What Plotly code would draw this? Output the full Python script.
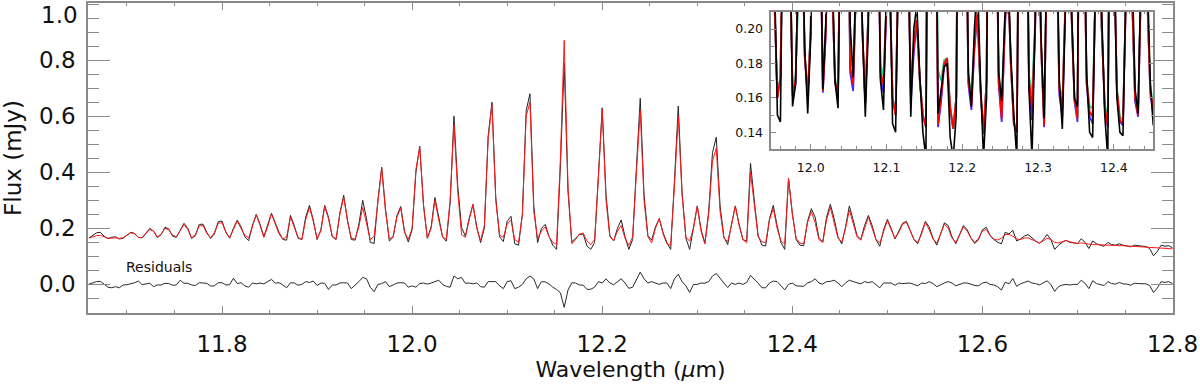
import plotly.graph_objects as go

# spectrum is sampled every 0.004 um starting at 11.66 um
wave_start = 11.66
wave_step = 0.004

# fluxes below are in units of 0.001 mJy
flux_obs = [
    166, 175, 184, 186, 172, 163, 168, 170, 162, 165,
    175, 186, 182, 168, 166, 182, 200, 190, 167, 178,
    204, 198, 172, 168, 195, 218, 200, 164, 174, 214,
    215, 186, 164, 180, 224, 226, 186, 165, 200, 229,
    206, 170, 156, 210, 250, 215, 170, 215, 254, 220,
    186, 160, 158, 246, 210, 165, 160, 240, 282, 230,
    160, 195, 282, 240, 170, 160, 255, 318, 230, 160,
    158, 215, 300, 235, 150, 146, 300, 418, 270, 155,
    168, 245, 278, 190, 151, 195, 400, 493, 285, 165,
    205, 310, 245, 170, 154, 290, 600, 350, 203, 172,
    235, 286, 205, 149, 200, 530, 650, 310, 170, 153,
    225, 243, 145, 140, 250, 620, 680, 280, 149, 200,
    214, 172, 140, 125, 420, 789, 330, 151, 165, 178,
    180, 137, 125, 150, 390, 630, 320, 175, 155, 200,
    230, 170, 125, 160, 420, 664, 320, 175, 158, 205,
    235, 185, 150, 125, 370, 636, 330, 165, 125, 200,
    280, 195, 148, 260, 470, 525, 280, 170, 142, 215,
    280, 215, 160, 155, 432, 300, 175, 140, 137, 235,
    282, 210, 150, 125, 378, 255, 160, 140, 138, 225,
    270, 240, 165, 151, 240, 286, 235, 170, 144, 205,
    280, 230, 175, 160, 210, 246, 210, 160, 136, 195,
    232, 200, 162, 190, 218, 225, 195, 160, 145, 185,
    225, 205, 165, 140, 180, 220, 210, 170, 145, 175,
    210, 195, 165, 146, 160, 195, 204, 175, 160, 150,
    145, 186, 180, 193, 155, 162, 172, 178, 165, 155,
    146, 160, 178, 160, 125, 140, 150, 157, 150, 148,
    146, 163, 150, 128, 155, 145, 140, 136, 150, 142,
    140, 145, 140, 138, 134, 140, 138, 136, 135, 128,
    102, 118, 140, 136, 138, 130,
]

flux_model = [
    165, 170, 174, 175, 170, 165, 165, 166, 164, 167,
    176, 184, 180, 168, 167, 180, 196, 190, 169, 180,
    200, 195, 175, 170, 192, 214, 196, 166, 178, 208,
    210, 182, 166, 185, 218, 220, 188, 166, 196, 226,
    200, 175, 166, 205, 248, 210, 168, 205, 252, 215,
    180, 162, 170, 240, 205, 168, 160, 230, 275, 225,
    164, 190, 278, 235, 172, 162, 250, 312, 225, 165,
    162, 205, 275, 215, 160, 172, 300, 415, 260, 163,
    170, 240, 272, 185, 161, 200, 410, 490, 280, 164,
    200, 300, 230, 170, 161, 300, 570, 330, 178, 168,
    230, 284, 200, 157, 210, 520, 640, 300, 175, 168,
    215, 230, 160, 150, 250, 600, 650, 260, 164, 190,
    205, 170, 150, 143, 450, 871, 350, 145, 160, 180,
    183, 155, 142, 160, 380, 625, 300, 170, 156, 190,
    210, 165, 139, 170, 400, 620, 300, 170, 148, 200,
    235, 180, 145, 140, 350, 600, 320, 170, 154, 200,
    280, 190, 144, 250, 440, 486, 260, 165, 153, 210,
    280, 210, 160, 148, 400, 280, 170, 152, 149, 230,
    270, 200, 155, 144, 378, 250, 165, 147, 145, 220,
    260, 220, 160, 150, 230, 275, 220, 165, 152, 200,
    265, 220, 170, 158, 200, 240, 200, 160, 148, 190,
    228, 195, 165, 185, 215, 222, 190, 160, 150, 180,
    222, 195, 162, 148, 180, 215, 200, 165, 150, 175,
    205, 190, 165, 150, 165, 190, 196, 175, 162, 158,
    165, 178, 178, 172, 162, 160, 165, 166, 160, 152,
    148, 155, 165, 160, 150, 148, 152, 157, 152, 148,
    146, 148, 146, 143, 142, 142, 141, 140, 140, 139,
    139, 138, 138, 137, 137, 136, 135, 134, 133, 132,
    131, 131, 130, 129, 128, 127,
]

flux_resid = [
    1, 5, 10, 11, 2, -10, -12, -8, -12, -2,
    -1, 2, 6, 12, -1, 2, 4, -8, -2, -2,
    4, 3, -3, -2, 15, 4, 4, -2, -4, 6,
    5, 4, -6, -5, 6, 6, -2, -1, 22, 3,
    6, -5, -10, 5, 2, 5, 2, 10, 18, 5,
    6, -2, -12, 6, 5, -3, 0, 10, 7, 12,
    -4, 5, 4, -18, -2, -2, 5, 6, 5, -15,
    -4, 10, 25, 20, -10, -26, 0, 3, 10, -8,
    -2, 5, 6, 5, -10, -5, -10, 3, 5, 1,
    5, 10, 15, 0, -7, -10, 30, 20, 25, 4,
    5, 2, 5, -8, -10, 10, 10, 10, -5, -15,
    10, 13, -15, -10, 0, 20, 30, 20, -15, 10,
    9, 2, -10, -18, -30, -82, -20, 6, 5, -2,
    -3, -18, -17, -10, 10, 5, 20, 5, -1, 10,
    20, 5, -14, -10, 20, 44, 20, 5, 10, 5,
    0, 5, 5, -15, 20, 36, 10, -5, -29, 0,
    0, 5, 4, 10, 30, 39, 20, 5, -11, 5,
    0, 5, 0, 7, 32, 20, 5, -12, -12, 5,
    12, 10, -5, -19, 0, 5, -5, -7, -7, 5,
    10, 20, 5, 1, 10, 11, 15, 5, -8, 5,
    15, 10, 5, 2, 10, 6, 10, 0, -12, 5,
    4, 5, -3, 5, 3, 3, 5, 0, -5, 5,
    3, 10, 3, -8, 0, 5, 10, 5, -5, 0,
    5, 5, 0, -4, -5, 5, 8, 0, -2, -8,
    -20, 8, 2, 21, -7, 2, 7, 12, 5, 3,
    -2, 5, 13, 0, -25, -8, -2, 0, -2, 0,
    0, 15, 4, -15, 13, 3, -1, -4, 10, 3,
    1, 7, 2, 1, -3, 4, 3, 2, 2, -4,
    -29, -13, 10, 7, 10, 3,
]

# the two alternative models, only over the inset window (samples 72..199)
inset_first = 72
flux_model_green = [
    275, 215, 161, 172, 300, 415, 260, 167,
    173, 240, 272, 186, 161, 200, 410, 490, 282, 171,
    204, 300, 230, 172, 162, 300, 570, 330, 184, 175,
    232, 284, 200, 157, 210, 520, 640, 300, 179, 173,
    217, 230, 160, 150, 250, 600, 650, 260, 170, 193,
    205, 170, 150, 143, 450, 871, 350, 176, 170, 182,
    183, 155, 142, 160, 380, 625, 300, 172, 163, 193,
    210, 165, 139, 170, 400, 620, 300, 173, 157, 203,
    235, 180, 146, 141, 350, 600, 320, 173, 162, 204,
    280, 190, 146, 250, 440, 486, 260, 168, 158, 212,
    280, 210, 160, 148, 400, 280, 172, 155, 154, 230,
    270, 200, 157, 147, 378, 250, 166, 149, 147, 220,
    260, 220, 162, 152, 230, 275, 220, 167, 155, 200,
]
flux_model_blue = [
    275, 215, 160, 172, 300, 415, 260, 161,
    168, 240, 272, 184, 161, 200, 410, 490, 279, 163,
    198, 300, 230, 169, 161, 300, 570, 330, 175, 164,
    228, 284, 200, 157, 210, 520, 640, 300, 172, 163,
    213, 230, 160, 150, 250, 600, 650, 260, 157, 186,
    205, 169, 150, 143, 450, 871, 350, 143, 158, 178,
    182, 153, 142, 160, 380, 625, 300, 168, 153, 188,
    210, 164, 139, 170, 400, 620, 300, 168, 146, 198,
    235, 180, 145, 140, 350, 600, 320, 166, 147, 196,
    280, 190, 143, 250, 440, 486, 260, 162, 149, 208,
    280, 210, 158, 146, 400, 280, 168, 149, 145, 230,
    270, 200, 154, 143, 378, 250, 164, 146, 144, 220,
    260, 220, 158, 149, 230, 275, 220, 163, 150, 200,
]

wave = [round(wave_start + wave_step * k, 4) for k in range(len(flux_obs))]


def mjy(vals):
    return [v / 1000 for v in vals]


inset_last = inset_first + len(flux_model_green)
wave_in = wave[inset_first:inset_last]

FONT = "DejaVu Sans"
AXIS = "#8a8a8a"

fig = go.Figure()

# main panel
fig.add_trace(go.Scatter(x=wave, y=mjy(flux_obs), mode="lines",
                         line=dict(color="#222222", width=1), showlegend=False))
fig.add_trace(go.Scatter(x=wave, y=mjy(flux_model), mode="lines",
                         line=dict(color="#ff1a1a", width=1), showlegend=False))
fig.add_trace(go.Scatter(x=wave, y=mjy(flux_resid), mode="lines",
                         line=dict(color="#2a2a2a", width=1), showlegend=False))

# inset
fig.add_trace(go.Scatter(x=wave_in, y=mjy(flux_model_blue), mode="lines", xaxis="x2", yaxis="y2",
                         line=dict(color="#5020ff", width=1.8), showlegend=False))
fig.add_trace(go.Scatter(x=wave_in, y=mjy(flux_model_green), mode="lines", xaxis="x2", yaxis="y2",
                         line=dict(color="#20dd90", width=1.8), showlegend=False))
fig.add_trace(go.Scatter(x=wave_in, y=mjy(flux_model[inset_first:inset_last]), mode="lines",
                         xaxis="x2", yaxis="y2",
                         line=dict(color="#ff0000", width=1.8), showlegend=False))
fig.add_trace(go.Scatter(x=wave_in, y=mjy(flux_obs[inset_first:inset_last]), mode="lines",
                         xaxis="x2", yaxis="y2",
                         line=dict(color="#000000", width=1.6), showlegend=False))

fig.update_layout(
    width=1200, height=386,
    margin=dict(l=88, r=27, t=3, b=73),
    paper_bgcolor="white", plot_bgcolor="white",
    font=dict(family=FONT, color="#111111"),
    xaxis=dict(
        range=[11.659, 12.8005], domain=[0, 1], automargin=False,
        showline=True, linecolor=AXIS, linewidth=1.5, mirror="ticks",
        ticks="inside", ticklen=7, tickwidth=1.2, tickcolor=AXIS,
        tick0=11.8, dtick=0.2, tickformat=".1f",
        tickfont=dict(size=23), ticklabelstandoff=10,
        minor=dict(ticks="inside", ticklen=3.5, tickcolor=AXIS, tick0=11.8, dtick=0.05, showgrid=False),
        showgrid=False, zeroline=False,
        title=dict(text="Wavelength (<i>μ</i>m)", font=dict(size=22), standoff=4),
    ),
    yaxis=dict(
        range=[-0.102, 1.004], domain=[0, 1], automargin=False,
        showline=True, linecolor=AXIS, linewidth=1.5, mirror="ticks",
        ticks="inside", ticklen=22, tickwidth=1.2, tickcolor=AXIS,
        tickvals=[0, 0.2, 0.4, 0.6, 0.8], ticktext=["0.0", "0.2", "0.4", "0.6", "0.8"],
        tickfont=dict(size=23), ticklabelstandoff=6,
        minor=dict(ticks="inside", ticklen=11, tickcolor=AXIS, tick0=0, dtick=0.05, showgrid=False),
        showgrid=False, zeroline=False,
        title=dict(text="Flux (mJy)", font=dict(size=23), standoff=18),
    ),
    xaxis2=dict(
        anchor="y2", domain=[0.6298, 0.9818], range=[11.948, 12.452], automargin=False,
        showline=True, linecolor=AXIS, linewidth=1.5, mirror="ticks",
        ticks="inside", ticklen=5, tickcolor=AXIS,
        tick0=12.0, dtick=0.1, tickformat=".1f",
        tickfont=dict(size=12.5), ticklabelstandoff=6,
        minor=dict(ticks="inside", ticklen=3, tickcolor=AXIS, dtick=0.02),
        showgrid=False, zeroline=False,
    ),
    yaxis2=dict(
        anchor="x2", domain=[0.529, 0.972], range=[0.1303, 0.2101], automargin=False,
        showline=True, linecolor=AXIS, linewidth=1.5, mirror="ticks",
        ticks="inside", ticklen=5, tickcolor=AXIS,
        tick0=0.14, dtick=0.02, tickformat=".2f",
        tickfont=dict(size=12.5), ticklabelstandoff=4,
        minor=dict(ticks="inside", ticklen=3, tickcolor=AXIS, dtick=0.01),
        showgrid=False, zeroline=False,
    ),
    annotations=[
        dict(text="1.0", xref="paper", yref="paper", x=-0.0071, y=0.962,
             xanchor="right", yanchor="middle", showarrow=False, font=dict(size=23)),
        dict(text="Residuals", xref="x", yref="y", x=11.734, y=0.062,
             xanchor="center", yanchor="middle", showarrow=False, font=dict(size=14)),
    ],
)

# the page's default body margin would push the figure 8px right and down
fig.write_html("out.html", config={"displayModeBar": False},
               post_script="document.body.style.margin = '0px';")
